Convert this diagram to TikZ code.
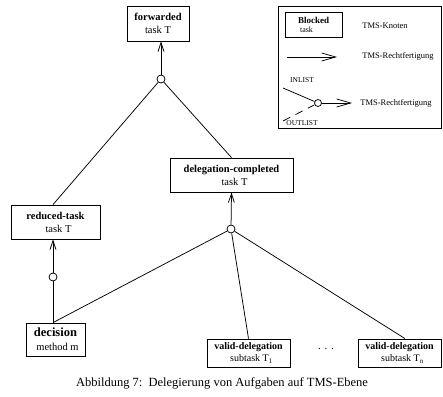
\documentclass[tikz,border=0pt]{standalone}
\usepackage{fontspec}
\setmainfont{Liberation Serif}
\usetikzlibrary{arrows.meta}
\begin{document}
\begin{tikzpicture}[x=1pt,y=-1pt,
  every path/.style={line width=0.75pt},
  tmsbox/.style={draw, rectangle, inner sep=0pt, align=center, line width=0.8pt,
     font=\fontsize{10.5}{13}\selectfont},
  jc/.style={draw, circle, fill=white, inner sep=0pt, minimum size=8pt},
  arr/.style={-{Straight Barb[length=9pt,width=6pt]}},
  larr/.style={-{Straight Barb[length=14pt,width=8pt]}},
  lgtext/.style={anchor=west, inner sep=0pt, font=\fontsize{8.5}{10}\selectfont},
  lgsmall/.style={inner sep=0pt, font=\fontsize{7.5}{9}\selectfont},
]
\useasboundingbox (0,0) rectangle (443,396);

% main nodes
\node[tmsbox, minimum width=62pt, minimum height=35pt] (fw) at (158,23.5)
  {\textbf{forwarded}\\task T};
\node[tmsbox, minimum width=89pt, minimum height=34pt] (rt) at (55.5,222)
  {\textbf{reduced-task}\\\hspace*{6pt}task T};
\node[tmsbox, minimum width=59pt, minimum height=33pt, font=\fontsize{10.5}{14}\selectfont] (dec) at (55.5,339.5)
  {{\fontsize{12.5}{14}\selectfont\textbf{decision}}\\\hspace*{4pt}method m};
\node[tmsbox, minimum width=123pt, minimum height=34pt] (dc) at (231.5,175)
  {\textbf{delegation-completed}\\\hspace*{6pt}task T};
\node[tmsbox, minimum width=83pt, minimum height=28pt, font=\fontsize{10}{12.5}\selectfont] (vd1) at (248.5,353)
  {\textbf{valid-delegation}\\\hspace*{6pt}subtask T\textsubscript{1}};
\node[tmsbox, minimum width=83pt, minimum height=28pt, font=\fontsize{10}{12.5}\selectfont] (vdn) at (399.5,353)
  {\textbf{valid-delegation}\\\hspace*{6pt}subtask T\textsubscript{n}};
\node[font=\fontsize{11}{13}\selectfont] (dots) at (326,349) {. . .};

% justification circles
\node[jc] (c1) at (161,79) {};
\node[jc] (c2) at (231,229) {};
\node[jc] (c3) at (53,277) {};

% connectors
\draw[arr] (c1) -- ([xshift=3pt]fw.south);
\draw (c1) -- ([xshift=-2.5pt]rt.north);
\draw (c1) -- (dc.north);
\draw[arr] (c2) -- (dc.south);
\draw (c2) -- ([xshift=-2.5pt]dec.north);
\draw (c2) -- (vd1.north);
\draw (c2) -- ([xshift=5.5pt]vdn.north);
\draw ([xshift=-2.5pt]dec.north) -- (c3);
\draw[arr] (c3) -- ([xshift=-2.5pt]rt.south);

% legend
\node[draw, rectangle, line width=0.8pt, minimum width=163pt, minimum height=122pt, inner sep=0pt] (lg) at (359.5,67) {};
\node[draw, rectangle, line width=0.8pt, minimum width=57pt, minimum height=25pt, inner sep=0pt, align=center,
  font=\fontsize{8}{10}\selectfont] (lgb) at (313.5,25)
  {\fontsize{9}{10}\selectfont\textbf{Blocked}\\[-1pt]\hspace*{-14pt}task};
\node[lgtext] (lgk) at (362,26) {TMS-Knoten};
\coordinate (la1) at (287,57);
\coordinate (la2) at (337,57);
\draw[larr] (la1) -- (la2);
\node[lgtext] (lgr1) at (362,56) {TMS-Rechtfertigung};
\node[lgsmall] (inl) at (302,80) {INLIST};
\node[jc, minimum size=7pt] (lc) at (318,103) {};
\coordinate (lin) at (283,88);
\coordinate (lout) at (283,121);
\coordinate (lend) at (352,103);
\draw (lin) -- (lc);
\draw[dash pattern=on 8pt off 6pt] (lout) -- (lc);
\draw[larr] (lc) -- (lend);
\node[lgtext] (lgr2) at (360,103) {TMS-Rechtfertigung};
\node[lgsmall] (outl) at (302,123) {OUTLIST};

% caption
\node[font=\fontsize{12.5}{15}\selectfont] (cap) at (222,383)
  {Abbildung 7:\ \ Delegierung von Aufgaben auf TMS-Ebene};
\end{tikzpicture}
\end{document}
